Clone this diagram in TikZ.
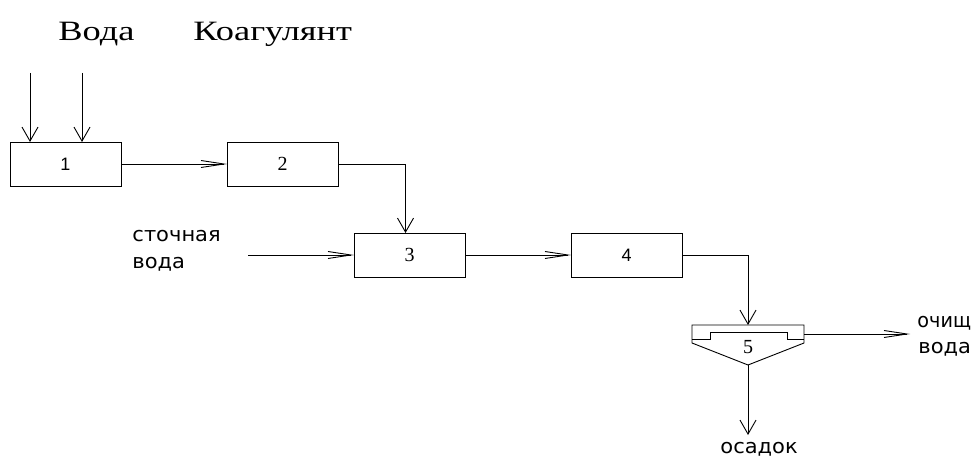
\documentclass[tikz,border=0pt]{standalone}
\usepackage{fontspec}
\setmainfont{Liberation Serif}
\newfontfamily\titlefont{Liberation Serif}
\newfontfamily\gostfont[FakeStretch=1.05]{DejaVu Sans}
\newfontfamily\gostnarrow[FakeStretch=0.96]{DejaVu Sans}
\newfontfamily\numsans{Liberation Sans}
\newfontfamily\numserif{Liberation Serif}
\usetikzlibrary{arrows.meta}
\newcommand{\wide}[1]{\scalebox{1.3}[1]{#1}}
\begin{document}
\begin{tikzpicture}[x=1pt,y=-1pt,line width=0.9pt,
  box/.style={draw,rectangle,minimum width=111pt,minimum height=44pt,inner sep=0pt,outer sep=0pt},
  harr/.style={-{Straight Barb[length=23pt,width=7pt]}},
  varr/.style={-{Straight Barb[length=14pt,width=16pt]}},
  ttl/.style={font=\titlefont\fontsize{28}{32}\selectfont,inner sep=0pt,anchor=base west},
  gost/.style={font=\gostfont\fontsize{20}{24}\selectfont,inner sep=0pt,anchor=base west},
  gostn/.style={font=\gostnarrow\fontsize{20}{24}\selectfont,inner sep=0pt,anchor=base west},
  nsans/.style={font=\numsans\fontsize{18}{20}\selectfont},
  nserif/.style={font=\numserif\fontsize{20}{22}\selectfont}]
\useasboundingbox (0,0) rectangle (972,462);
% titles
\node[ttl] (tvoda) at (58,41) {\wide{Вода}};
\node[ttl] (tkoag) at (193,41) {\wide{Коагулянт}};
% boxes
\node[box,nsans] (b1) at (65.5,164) {1};
\node[box,nserif] (b2) at (282.5,164) {2};
\node[box,nserif] (b3) at (409.5,255) {3};
\node[box,nsans] (b4) at (626.5,255) {4};
\node[draw=none,minimum width=112pt,minimum height=18pt,inner sep=0pt,outer sep=0pt] (b5) at (748,334) {};
\coordinate (apex) at (748,365);
\draw (b5.north west) -- (b5.north east) -- (b5.south east) -- (apex) -- (b5.south west) -- cycle;
\draw (692,339) -- (710,339) -- (710,332) -- (787,332) -- (787,339) -- (804,339);
\node[nserif,inner sep=0pt] (l5) at (748,347) {5};
% inputs
\coordinate (in1) at (30,73);
\coordinate (in2) at (82,73);
\draw[varr] (in1) -- (in1 |- b1.north);
\draw[varr] (in2) -- (in2 |- b1.north);
\node[gost] (st1) at (132,242) {сточная};
\node[gost] (st2) at (132,269) {вода};
\coordinate (sin) at (248,255);
\draw[harr] (sin) -- (b3.west);
% flow
\draw[harr] (b1) -- (b2);
\draw[varr] (b2.east) -| ([xshift=-4pt]b3.north);
\draw[harr] (b3) -- (b4);
\draw[varr] (b4.east) -| (b5.north);
\coordinate (outtip) at (910,334);
\draw[harr] (b5.east) -- (outtip);
\node[gostn] (oc1) at (917,328) {очищ};
\node[gost] (oc2) at (918,353) {вода};
\coordinate (bottip) at (748,435);
\draw[varr] (apex) -- (bottip);
\node[gost] (os) at (720,453) {осадок};
\end{tikzpicture}
\end{document}
